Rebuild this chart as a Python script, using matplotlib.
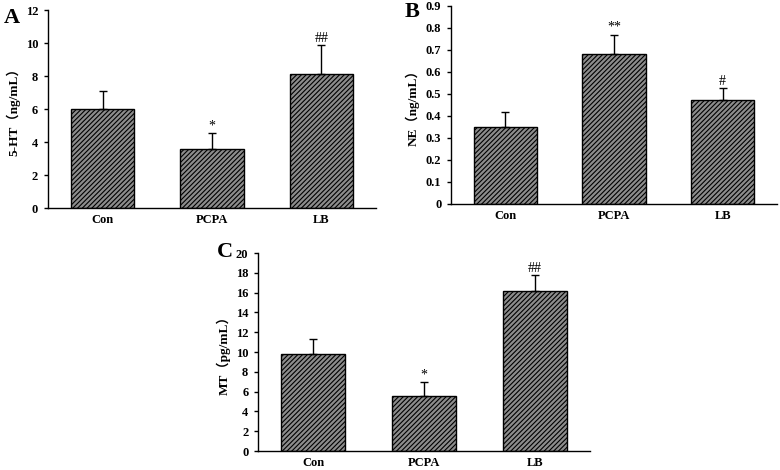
import matplotlib
matplotlib.use('Agg')
import matplotlib.pyplot as plt

plt.rcParams['font.family'] = ['Liberation Serif', 'Noto Sans CJK SC', 'DejaVu Sans']
plt.rcParams['hatch.linewidth'] = 0.8

groups = ['Con', 'PCPA', 'LB']

ht_mean = [6.0, 3.55, 8.15]
ht_err = [1.08, 0.98, 1.7]
ht_marks = ['', '*', '##']

ne_mean = [0.35, 0.682, 0.472]
ne_err = [0.066, 0.088, 0.054]
ne_marks = ['', '**', '#']

mt_mean = [9.83, 5.56, 16.16]
mt_err = [1.45, 1.44, 1.58]
mt_marks = ['', '*', '##']


def draw_panel(ax, means, errs, marks, ylabel, ymax, ystep):
    x = list(range(len(groups)))
    ax.bar(x, means, width=0.58, color='#8c8c8c', edgecolor='black',
           hatch='///////', linewidth=1.0, zorder=2)
    ax.errorbar(x, means, yerr=[[0] * len(errs), errs], fmt='none',
                ecolor='black', elinewidth=1.0, capsize=3, capthick=1.0, zorder=3)
    for xi, m, e, s in zip(x, means, errs, marks):
        if s:
            ax.text(xi, m + e + ymax * 0.003, s, ha='center', va='bottom',
                    fontsize=10)
    ax.set_xlim(-0.5, 2.5)
    ax.set_ylim(0, ymax)
    n = int(round(ymax / ystep))
    ticks = [round(i * ystep, 2) for i in range(n + 1)]
    ax.set_yticks(ticks)
    ax.set_yticklabels([f'{t:g}' for t in ticks], fontweight='bold', fontsize=9)
    ax.set_xticks(x)
    ax.set_xticklabels(groups, fontweight='bold', fontsize=9)
    ax.tick_params(axis='x', length=0, pad=4)
    ax.tick_params(axis='y', length=3, width=1, direction='out', pad=4)
    ax.spines['top'].set_visible(False)
    ax.spines['right'].set_visible(False)
    ax.spines['left'].set_linewidth(1.0)
    ax.spines['bottom'].set_linewidth(1.0)
    ax.set_ylabel(ylabel, fontweight='bold', fontsize=9.5, labelpad=4)


fig = plt.figure(figsize=(7.8, 4.7), dpi=100)
ax_a = fig.add_axes([0.0615, 0.5574, 0.4205, 0.4213])
ax_b = fig.add_axes([0.5782, 0.566, 0.418, 0.4213])
ax_c = fig.add_axes([0.3308, 0.0404, 0.4256, 0.4213])

draw_panel(ax_a, ht_mean, ht_err, ht_marks, '5-HT（ng/mL）', 12, 2)
draw_panel(ax_b, ne_mean, ne_err, ne_marks, 'NE（ng/mL）', 0.9, 0.1)
draw_panel(ax_c, mt_mean, mt_err, mt_marks, 'MT（pg/mL）', 20, 2)

# panel letters, in figure pixels
for letter, px, py in [('A', 4, 8), ('B', 405, 2), ('C', 217, 242)]:
    fig.text(px / 780, 1 - py / 470, letter, fontsize=16, fontweight='bold',
             ha='left', va='top')

fig.savefig('out.png', dpi=100)
